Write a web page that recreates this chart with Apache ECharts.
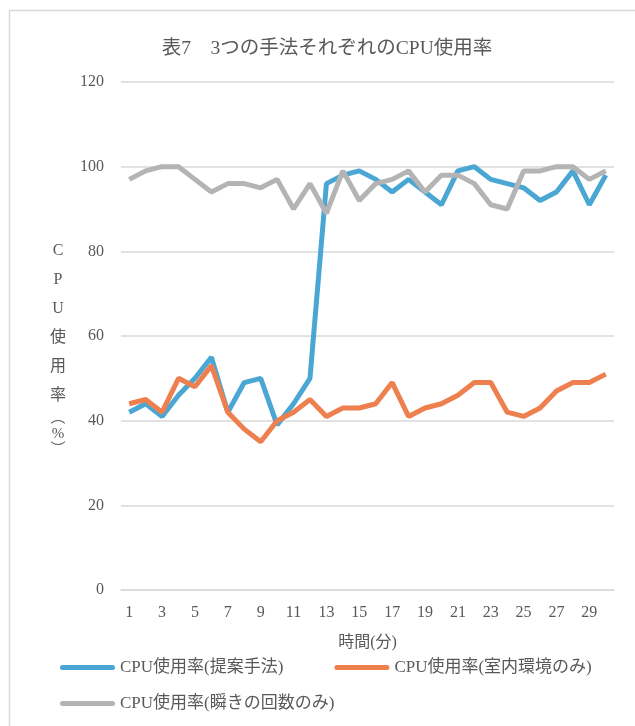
<!DOCTYPE html>
<html>
<head>
<meta charset="utf-8">
<script src="https://cdn.jsdelivr.net/npm/echarts@6/dist/echarts.min.js"></script>
<style>html,body{margin:0;padding:0;background:#fff}#c{width:635px;height:726px}</style>
</head>
<body>
<div id="c"></div>
<script>
const categories = ['1','2','3','4','5','6','7','8','9','10','11','12','13','14','15','16','17','18','19','20','21','22','23','24','25','26','27','28','29','30'];
const proposed = [42,44,41,46,50,55,42,49,50,39,44,50,96,98,99,97,94,97,94,91,99,100,97,96,95,92,94,99,91,98];
const indoorOnly = [44,45,42,50,48,53,42,38,35,40,42,45,41,43,43,44,49,41,43,44,46,49,49,42,41,43,47,49,49,51];
const blinkOnly = [97,99,100,100,97,94,96,96,95,97,90,96,89,99,92,96,97,99,94,98,98,96,91,90,99,99,100,100,97,99];
const seriesNames = ['CPU使用率(提案手法)','CPU使用率(室内環境のみ)','CPU使用率(瞬きの回数のみ)'];
const yTicks = {min:0, max:120, interval:20};
const titleText = '表7　3つの手法それぞれのCPU使用率';
const xName = '時間(分)';
const yNameChars = ['C','P','U','使','用','率','︵','%','︶'];

const FONT = "'Liberation Serif','Noto Sans CJK JP',serif";
const TXT = '#595959';
const colors = ['#4AA6D3','#EE7F4E','#B4B4B4'];
const ICON = 'path://M2.5,0 H52.5 A2.5,2.5 0 0 1 52.5,5 H2.5 A2.5,2.5 0 0 1 2.5,0 Z';

const yName = yNameChars.map((c,i)=> (i>=6 ? '{b|'+c+'}' : '{a|'+c+'}')).join('\n');

const chart = echarts.init(document.getElementById('c'));
chart.setOption({
  animation:false,
  color: colors,
  title:{text:titleText, left:322, top:34, textAlign:'center',
    textStyle:{fontFamily:FONT, fontSize:19.5, fontWeight:'normal', color:TXT}},
  graphic:[{type:'rect', shape:{x:9.5,y:10.5,width:700,height:800},
    style:{fill:null, stroke:'#D9D9D9', lineWidth:1.5}, silent:true, z:-1}],
  grid:{left:121, right:21, top:82, bottom:136},
  legend:[
    {data:[seriesNames[0],seriesNames[1]], left:60, top:659, padding:0, itemGap:51, itemWidth:55, itemHeight:5, icon:ICON,
     textStyle:{fontFamily:FONT, fontSize:17, color:TXT}},
    {data:[seriesNames[2]], left:60, top:695, padding:0, itemWidth:55, itemHeight:5, icon:ICON,
     textStyle:{fontFamily:FONT, fontSize:17, color:TXT}}
  ],
  xAxis:{type:'category', data:categories, boundaryGap:true,
    name:xName, nameLocation:'middle', nameGap:45,
    nameTextStyle:{fontFamily:FONT, fontSize:16, color:TXT},
    axisLine:{show:true, lineStyle:{color:'#D9D9D9', width:1.5}},
    axisTick:{show:false},
    axisLabel:{interval:1, fontFamily:FONT, fontSize:16, color:TXT, margin:15}},
  yAxis:{type:'value', min:yTicks.min, max:yTicks.max, interval:yTicks.interval,
    name:yName, nameLocation:'middle', nameRotate:0, nameGap:63,
    nameTextStyle:{align:'center', verticalAlign:'middle', fontFamily:FONT, color:TXT, padding:[22,0,0,0],
      rich:{a:{fontFamily:FONT, fontSize:16, color:TXT, lineHeight:29, align:'center'},
            b:{fontFamily:FONT, fontSize:15, color:TXT, lineHeight:16, align:'center'}}},
    axisLine:{show:false}, axisTick:{show:false},
    splitLine:{lineStyle:{color:'#D9D9D9', width:1.5}},
    axisLabel:{fontFamily:FONT, fontSize:16, color:TXT, margin:17}},
  series:[
    {name:seriesNames[0], type:'line', data:proposed, symbol:'none', lineStyle:{width:5}},
    {name:seriesNames[1], type:'line', data:indoorOnly, symbol:'none', lineStyle:{width:5}},
    {name:seriesNames[2], type:'line', data:blinkOnly, symbol:'none', lineStyle:{width:5}}
  ]
});
</script>
</body>
</html>
